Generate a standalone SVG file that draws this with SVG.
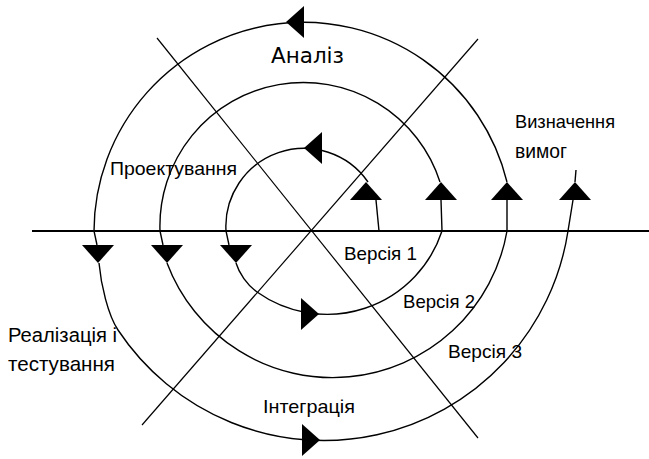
<svg xmlns="http://www.w3.org/2000/svg" xmlns:xlink="http://www.w3.org/1999/xlink" width="649" height="459" viewBox="0 0 649 459">
<style>
.ln{fill:none;stroke:#000;stroke-width:1.4}
.axis{fill:none;stroke:#000;stroke-width:2}
.diag{fill:none;stroke:#000;stroke-width:1.2}
.ah{fill:#000}
.lbl{font-family:"Liberation Sans",Arial,sans-serif;fill:#000}
.big{font-family:"DejaVu Sans",Verdana,sans-serif;fill:#000}
</style>
<defs>
<path id="tri" d="M0,0 L16,18 L-16,18 Z"/>
</defs>
<rect width="649" height="459" fill="#fff"/>
<g id="connectors">
<line class="axis" x1="32" y1="231" x2="649" y2="231"/>
<line class="diag" x1="157" y1="38" x2="478" y2="438"/>
<line class="diag" x1="478" y1="39" x2="142" y2="425"/>
<path class="ln" d="M379,231 L376,200"/>
<path class="ln" d="M368,182 A78,78 0 0 0 226,231 L229,245"/>
<path class="ln" d="M236,263 C239,273 247,285 257,292 A121,121 0 0 0 442,231 L441,200"/>
<path class="ln" d="M440,182 A143.5,143.5 0 0 0 160,231 L163,245"/>
<path class="ln" d="M167,263 A177,177 0 0 0 507,231 L507,200"/>
<path class="ln" d="M507,182 A209.5,209.5 0 0 0 94,231 L97,245"/>
<path class="ln" d="M99,263 C101,285 108,315 118,330 A247,247 0 0 0 568,231 L573,200"/>
<path class="ln" d="M575,182 L576,170"/>
<g class="ah">
<use xlink:href="#tri" transform="translate(366,182)"/>
<use xlink:href="#tri" transform="translate(441,182)"/>
<use xlink:href="#tri" transform="translate(507,182)"/>
<use xlink:href="#tri" transform="translate(575,182)"/>
<use xlink:href="#tri" transform="translate(98,263) rotate(180)"/>
<use xlink:href="#tri" transform="translate(167,263) rotate(180)"/>
<use xlink:href="#tri" transform="translate(236,263) rotate(180)"/>
<use xlink:href="#tri" transform="translate(286,22) rotate(-90)"/>
<use xlink:href="#tri" transform="translate(304,148) rotate(-90)"/>
<use xlink:href="#tri" transform="translate(319,314) rotate(90)"/>
<use xlink:href="#tri" transform="translate(320,440) rotate(90)"/>
</g>
</g>
<g id="analiz"><text class="big" x="271" y="63" font-size="21" textLength="73" lengthAdjust="spacingAndGlyphs">Аналіз</text></g>
<g id="proektuvannia"><text class="lbl" x="110" y="175" font-size="19" textLength="127" lengthAdjust="spacingAndGlyphs">Проектування</text></g>
<g id="vyznachennia"><text class="lbl" x="515" y="128" font-size="19" textLength="100" lengthAdjust="spacingAndGlyphs">Визначення</text>
<text class="lbl" x="515" y="158" font-size="21" textLength="52" lengthAdjust="spacingAndGlyphs">вимог</text></g>
<g id="versiia1"><text class="lbl" x="344" y="260" font-size="19" textLength="73" lengthAdjust="spacingAndGlyphs">Версія 1</text></g>
<g id="versiia2"><text class="lbl" x="403" y="308" font-size="19" textLength="72" lengthAdjust="spacingAndGlyphs">Версія 2</text></g>
<g id="versiia3"><text class="lbl" x="448" y="358" font-size="19" textLength="74" lengthAdjust="spacingAndGlyphs">Версія 3</text></g>
<g id="realizatsiia"><text class="lbl" x="8" y="342" font-size="20" textLength="109" lengthAdjust="spacingAndGlyphs">Реалізація і</text>
<text class="lbl" x="8" y="371" font-size="21" textLength="107" lengthAdjust="spacingAndGlyphs">тестування</text></g>
<g id="intehratsiia"><text class="lbl" x="263" y="413" font-size="19" textLength="92" lengthAdjust="spacingAndGlyphs">Інтеграція</text></g>
</svg>
